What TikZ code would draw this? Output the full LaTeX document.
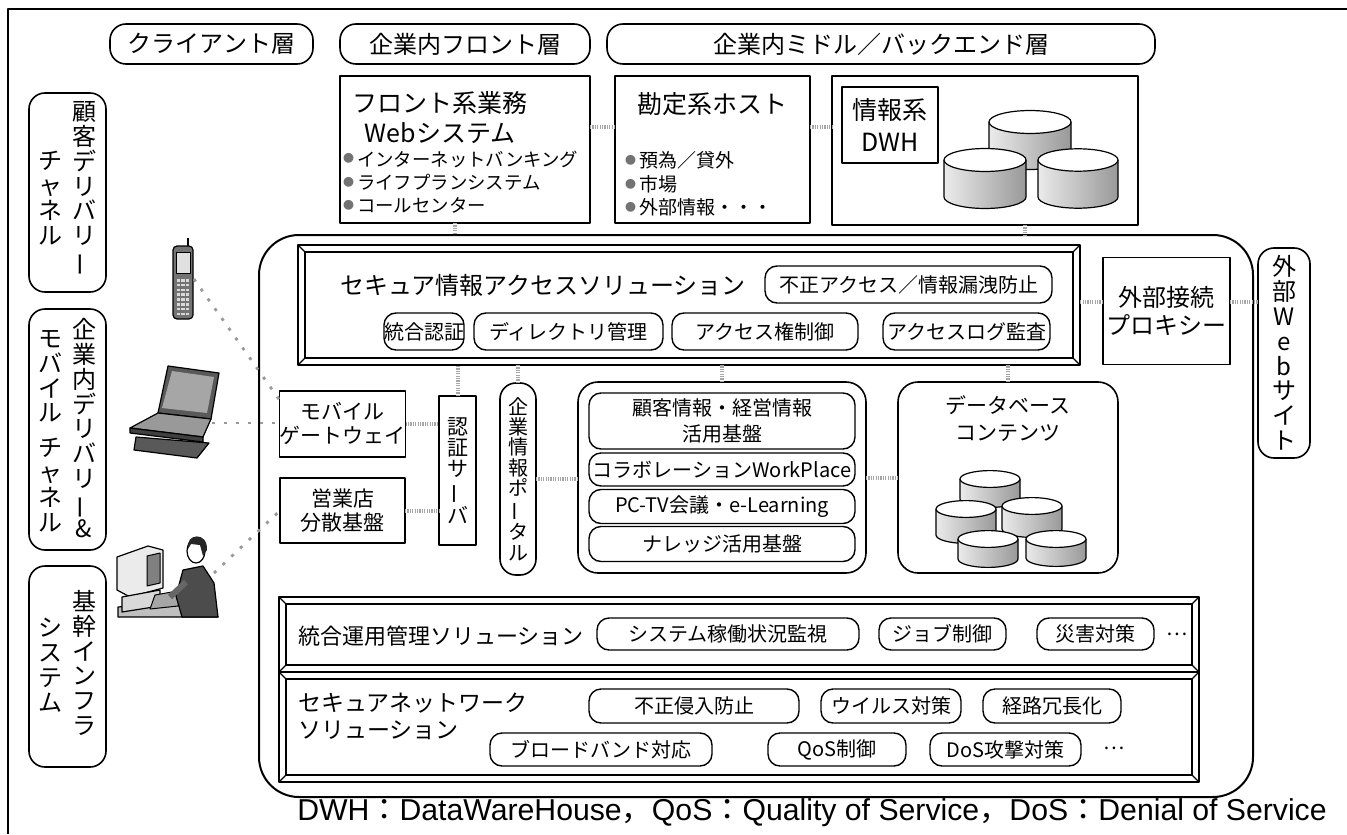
\documentclass[tikz,border=0pt]{standalone}
\usepackage{fontspec}
\setmainfont{Noto Sans CJK JP}
\newfontfamily\latinfont{Liberation Sans}
\usetikzlibrary{calc}

% 竖排用的长音符
\newcommand{\vbar}{\rotatebox[origin=c]{90}{ー}}
% 小圆点项目符号
\newcommand{\bul}{\raisebox{1.6pt}{\fontsize{5.5}{5.5}\selectfont\color{black!55}●}\hspace{1.5pt}}
% 全角冒号、逗号
\newcommand{\zcolon}{{\normalfont ：}}
\newcommand{\zcomma}{{\normalfont ，}}
% 数据库圆柱：中心x, 顶面y, 半宽, 柱高
\newcommand{\dbdisk}[4]{%
  \path[draw, line width=.6pt, left color=black!8, right color=black!40]
    (#1-#3,#2) -- ++(0,#4) arc[start angle=180, end angle=0, x radius=#3, y radius=#3*0.28] -- ++(0,-#4);
  \filldraw[fill=white, line width=.6pt] (#1,#2) ellipse[x radius=#3, y radius=#3*0.28];
}
% 立体边框（内框加四角斜线）
\newcommand{\bevel}[1]{%
  \draw[line width=.6pt] ([shift={(3.5pt,-3.5pt)}]#1.north west) rectangle ([shift={(-3.5pt,3.5pt)}]#1.south east);
  \foreach \a/\dx/\dy in {north west/3.5/-3.5, north east/-3.5/-3.5, south east/-3.5/3.5, south west/3.5/3.5}
    \draw[line width=.6pt] (#1.\a) -- ([shift={(\dx pt,\dy pt)}]#1.\a);
}

\begin{document}
\begin{tikzpicture}[x=0.5pt, y=-0.5pt, line join=round,
    every node/.style={inner sep=0pt, outer sep=0pt},
    layer/.style={draw, line width=.8pt, rounded corners=8pt, font=\fontsize{12}{14}\selectfont},
    sysbox/.style={draw, line width=.8pt},
    chan/.style={draw, line width=.8pt, rounded corners=8pt},
    vtext/.style={align=center, font=\fontsize{12}{12.4}\selectfont},
    panel/.style={draw, line width=.8pt},
    tag/.style={draw, line width=.7pt, rounded corners=6pt, font=\fontsize{10}{12}\selectfont},
    link/.style={draw=black!35, line width=2pt, dash pattern=on .6pt off .6pt},
    wire/.style={draw=black!40, line width=1.4pt, dash pattern=on 1.5pt off 4.5pt}]
  \useasboundingbox (0,0) rectangle (1347,834);
  % 1. 外框
  \draw[line width=.8pt] (8,834) -- (8,9) -- (1347,9);

  % 2. 层标题
  \node[layer, minimum width=101.5pt, minimum height=20pt] (client) at (211.5,44) {クライアント層};
  \node[layer, minimum width=125pt, minimum height=20pt] (frontlayer) at (465,44) {企業内フロント層};
  \node[layer, minimum width=274pt, minimum height=20pt] (backlayer) at (881,44) {企業内ミドル／バックエンド層};

  % 3. 前端系统、主机、DWH
  \node[sysbox, minimum width=125pt, minimum height=73.5pt] (frontweb) at (465,149.5) {};
  \node[align=center, font=\fontsize{12.5}{15}\selectfont] (frontweb-t) at (440,118) {フロント系業務\\Webシステム};
  \node[anchor=west, align=left, font=\fontsize{9.2}{11.6}\selectfont] (frontweb-l) at (343,182)
    {\bul インターネットバンキング\\\bul ライフプランシステム\\\bul コールセンター};
  \node[sysbox, minimum width=97.5pt, minimum height=73.5pt] (host) at (712.5,149.5) {};
  \node[font=\fontsize{12.5}{15}\selectfont] (host-t) at (712,104) {勘定系ホスト};
  \node[anchor=west, align=left, font=\fontsize{9.5}{11.7}\selectfont] (host-l) at (625,184)
    {\bul 預為／貸外\\\bul 市場\\\bul 外部情報・・・};
  \node[sysbox, minimum width=153pt, minimum height=74.5pt] (dwh) at (985,150.5) {};
  \node[sysbox, minimum width=48pt, minimum height=38pt, align=center, font=\fontsize{12.5}{16}\selectfont] (dwh-t) at (890,125) {情報系\\DWH};
  \dbdisk{1030}{122}{41}{36}
  \dbdisk{985}{160}{41}{37}
  \dbdisk{1078}{160}{40}{37}

  % 4. 左右两侧的竖排标签
  \node[chan, minimum width=38.5pt, minimum height=99.5pt] (custch) at (67.5,192.5) {};
  \node[vtext] (custch-a) at (84,189) {顧\\客\\デ\\リ\\バ\\リ\\\vbar};
  \node[vtext] (custch-b) at (51,198) {チ\\ャ\\ネ\\ル};
  \node[chan, minimum width=38.5pt, minimum height=120.5pt] (mobch) at (67.5,429.5) {};
  \node[vtext] (mobch-a) at (84,428) {企\\業\\内\\デ\\リ\\バ\\リ\\\vbar\\\&};
  \node[vtext] (mobch-b) at (51,431) {モ\\バ\\イ\\ル\\[5pt]チ\\ャ\\ネ\\ル};
  \node[chan, minimum width=38.5pt, minimum height=100.5pt] (basech) at (67.5,666.5) {};
  \node[vtext] (basech-a) at (84,663) {基\\幹\\イ\\ン\\フ\\ラ};
  \node[vtext] (basech-b) at (51,665) {シ\\ス\\テ\\ム};
  \node[chan, vtext, minimum width=26pt, minimum height=105pt] (website) at (1284,353) {外\\部\\W\\e\\b\\サ\\イ\\ト};

  % 5. 核心区域与安全访问层
  \node[draw, line width=1pt, rounded corners=20pt, minimum width=497pt, minimum height=281pt] (core) at (756,516) {};
  \node[panel, minimum width=391pt, minimum height=60pt] (secpanel) at (689,305) {};
  \bevel{secpanel}
  \node[font=\fontsize{12}{14}\selectfont] (sec-t) at (543,285) {セキュア情報アクセスソリューション};
  \node[tag, minimum width=143.5pt, minimum height=18.5pt] (sec-leak) at (908.5,284.5) {不正アクセス／情報漏洩防止};
  \node[tag, minimum width=40pt, minimum height=18.5pt] (sec-auth) at (424,331.5) {統合認証};
  \node[tag, minimum width=94.5pt, minimum height=18.5pt] (sec-dir) at (568.5,331.5) {ディレクトリ管理};
  \node[tag, minimum width=93pt, minimum height=18.5pt] (sec-acl) at (765,331.5) {アクセス権制御};
  \node[tag, minimum width=83.5pt, minimum height=18.5pt] (sec-log) at (966.5,331.5) {アクセスログ監査};
  \node[sysbox, minimum width=63.5pt, minimum height=53.5pt, align=center, font=\fontsize{12}{14}\selectfont] (proxy) at (1166.5,311) {外部接続\\プロキシー};

  % 6. 中间层
  \node[sysbox, minimum width=62.5pt, minimum height=33pt, align=center, font=\fontsize{10.5}{12}\selectfont] (gateway) at (342.5,424) {モバイル\\ゲートウェイ};
  \node[sysbox, minimum width=62.5pt, minimum height=32.5pt, align=center, font=\fontsize{10.5}{12}\selectfont] (shop) at (342.5,510.5) {営業店\\分散基盤};
  \node[sysbox, vtext, font=\fontsize{10.5}{10.6}\selectfont, minimum width=18.5pt, minimum height=74.5pt] (authsrv) at (457.5,470.5) {認\\証\\サ\\\vbar\\バ};
  \node[chan, vtext, font=\fontsize{10}{10.2}\selectfont, minimum width=18pt, minimum height=96pt] (portal) at (518,479) {企\\業\\情\\報\\ポ\\\vbar\\タ\\ル};
  \node[draw, line width=.8pt, rounded corners=10pt, minimum width=144pt, minimum height=95.5pt] (hub) at (722,477.5) {};
  \node[tag, minimum width=133pt, minimum height=28pt, align=center, font=\fontsize{10}{13}\selectfont] (hub-a) at (722,421) {顧客情報・経営情報\\活用基盤};
  \node[tag, minimum width=133pt, minimum height=16.5pt] (hub-b) at (722,469.5) {コラボレーションWorkPlace};
  \node[tag, minimum width=133pt, minimum height=17pt] (hub-c) at (722,506.5) {PC-TV会議・e-Learning};
  \node[tag, minimum width=133pt, minimum height=17.5pt] (hub-d) at (722,544) {ナレッジ活用基盤};
  \node[draw, line width=.8pt, rounded corners=10pt, minimum width=110pt, minimum height=95.5pt] (dbc) at (1008,477.5) {};
  \node[align=center, font=\fontsize{10.5}{13.5}\selectfont] (dbc-t) at (1008,418.5) {データベース\\コンテンツ};
  \dbdisk{990}{479}{30}{20}
  \dbdisk{966}{509}{30}{26}
  \dbdisk{1032}{506}{30}{23}
  \dbdisk{988}{539}{30}{20}
  \dbdisk{1056}{539}{30}{19}

  % 7. 运维与网络层
  \node[panel, minimum width=460pt, minimum height=37.5pt] (opspanel) at (739,634.5) {};
  \bevel{opspanel}
  \node[anchor=west, font=\fontsize{11}{13}\selectfont] (ops-t) at (298,636) {統合運用管理ソリューション};
  \node[tag, minimum width=131pt, minimum height=16pt] (ops-mon) at (728,634) {システム稼働状況監視};
  \node[tag, minimum width=63.5pt, minimum height=16pt] (ops-job) at (942.5,634) {ジョブ制御};
  \node[tag, minimum width=58.5pt, minimum height=16pt] (ops-dr) at (1095.5,634) {災害対策};
  \node[font=\fontsize{10}{12}\selectfont] (ops-more) at (1177,634) {…};
  \node[panel, minimum width=460pt, minimum height=55pt] (netpanel) at (739,727) {};
  \bevel{netpanel}
  \node[anchor=west, align=left, font=\fontsize{11.5}{13.5}\selectfont] (net-t) at (298,716) {セキュアネットワーク\\ソリューション};
  \node[tag, minimum width=105pt, minimum height=17pt] (net-ids) at (694,706) {不正侵入防止};
  \node[tag, minimum width=70pt, minimum height=17pt] (net-av) at (891,706) {ウイルス対策};
  \node[tag, minimum width=69pt, minimum height=17pt] (net-red) at (1052,706) {経路冗長化};
  \node[tag, minimum width=111pt, minimum height=16.5pt] (net-bb) at (601,749.5) {ブロードバンド対応};
  \node[tag, minimum width=69pt, minimum height=16.5pt] (net-qos) at (837,749.5) {QoS制御};
  \node[tag, minimum width=75.5pt, minimum height=16.5pt] (net-dos) at (1005.5,749.5) {DoS攻撃対策};
  \node[font=\fontsize{10}{12}\selectfont] (net-more) at (1114,748) {…};

  % 8. 终端设备
  % 手机
  \draw[line width=1pt] (188,247) -- (188,238);
  \filldraw[fill=black!55, line width=.6pt, rounded corners=2pt] (173,246) rectangle (193,319);
  \filldraw[fill=black!12, line width=.5pt] (176,252) rectangle (190,273);
  \foreach \r in {0,...,7}
    \foreach \c in {0,1,2}
      \fill[black!15] (176.5+\c*4.8,279+\r*4.8) rectangle ++(3.2,2.6);
  \coordinate (phone) at (194,279);
  % 笔记本
  \filldraw[fill=black!65, line width=.6pt] (168,366) -- (219,373) -- (211,419) -- (158,413) -- cycle;
  \fill[black!35] (172,371) -- (214,377) -- (207,413) -- (162,408) -- cycle;
  \filldraw[fill=black!40, line width=.6pt] (158,413) -- (211,419) -- (203,437) -- (130,428) -- cycle;
  \filldraw[fill=black!75, line width=.6pt] (130,428) -- (203,437) -- (203,442) -- (130,433) -- cycle;
  \filldraw[fill=black!65, line width=.6pt] (136,437) -- (209,443) -- (197,458) -- (134,450) -- cycle;
  \coordinate (laptop) at (212,423);
  % 电脑前的人
  \filldraw[fill=black!25, line width=.6pt] (118,607) -- (205,600) -- (218,617) -- (118,617) -- cycle;
  \filldraw[fill=black!8, line width=.6pt] (117,557) -- (148,546) -- (163,550) -- (163,588) -- (130,597) -- (117,590) -- cycle;
  \filldraw[fill=black!50, line width=.5pt] (147,556) -- (160,553) -- (160,583) -- (147,586) -- cycle;
  \filldraw[fill=black!15, line width=.6pt] (122,597) -- (160,590) -- (160,606) -- (122,612) -- cycle;
  \filldraw[fill=black!35, line width=.5pt] (155,595) -- (183,590) -- (178,606) -- (150,609) -- cycle;
  \filldraw[fill=black!70, line width=.6pt] (183,570) -- (203,566) -- (214,583) -- (218,617) -- (182,617) -- (176,596) -- cycle;
  \draw[line width=3pt, black!60] (186,582) -- (170,597);
  \filldraw[fill=white, line width=.6pt] (196,551) ellipse[x radius=9, y radius=12];
  \fill[black!85] (188,549) .. controls (185,533) and (208,531) .. (207,550) -- (203,556) -- (200,545) -- (191,544) -- cycle;
  \coordinate (pcuser) at (214,573);

  % 9. 连线
  \coordinate (fw-e) at ($(frontweb.north east)!.35!(frontweb.south east)$);
  \draw[link] (fw-e) -- (fw-e -| host.west);
  \coordinate (host-e) at ($(host.north east)!.35!(host.south east)$);
  \draw[link] (host-e) -- (host-e -| dwh.west);
  \coordinate (fw-s) at ($(frontweb.south west)!.46!(frontweb.south east)$);
  \draw[link] (fw-s) -- (fw-s |- core.north);
  \coordinate (dwh-s) at ($(dwh.south west)!.63!(dwh.south east)$);
  \draw[link] (dwh-s) -- (dwh-s |- core.north);
  \coordinate (px-w) at ($(proxy.north west)!.42!(proxy.south west)$);
  \draw[link] (px-w) -- (px-w -| secpanel.east);
  \draw[link] (px-w -| proxy.east) -- (px-w -| website.west);
  \foreach \n in {authsrv, portal, hub, dbc}
    \draw[link] (\n.north) -- (\n.north |- secpanel.south);
  \draw[link] (gateway.east) -- (gateway.east -| authsrv.west);
  \draw[link] (shop.east) -- (shop.east -| authsrv.west);
  \draw[link] (portal.east) -- (portal.east -| hub.west);
  \draw[link] (hub.east) -- (hub.east -| dbc.west);
  \draw[wire] (phone) -- ([yshift=-4.5pt]gateway.north west);
  \draw[wire] (laptop) -- (laptop -| gateway.west);
  \draw[wire] (pcuser) -- (shop.west);

  % 10. 注释
  \node[font=\latinfont\fontsize{15.1}{17}\selectfont] (note) at (812,813)
    {DWH\zcolon DataWareHouse\zcomma QoS\zcolon Quality of Service\zcomma DoS\zcolon Denial of Service};
\end{tikzpicture}
\end{document}
